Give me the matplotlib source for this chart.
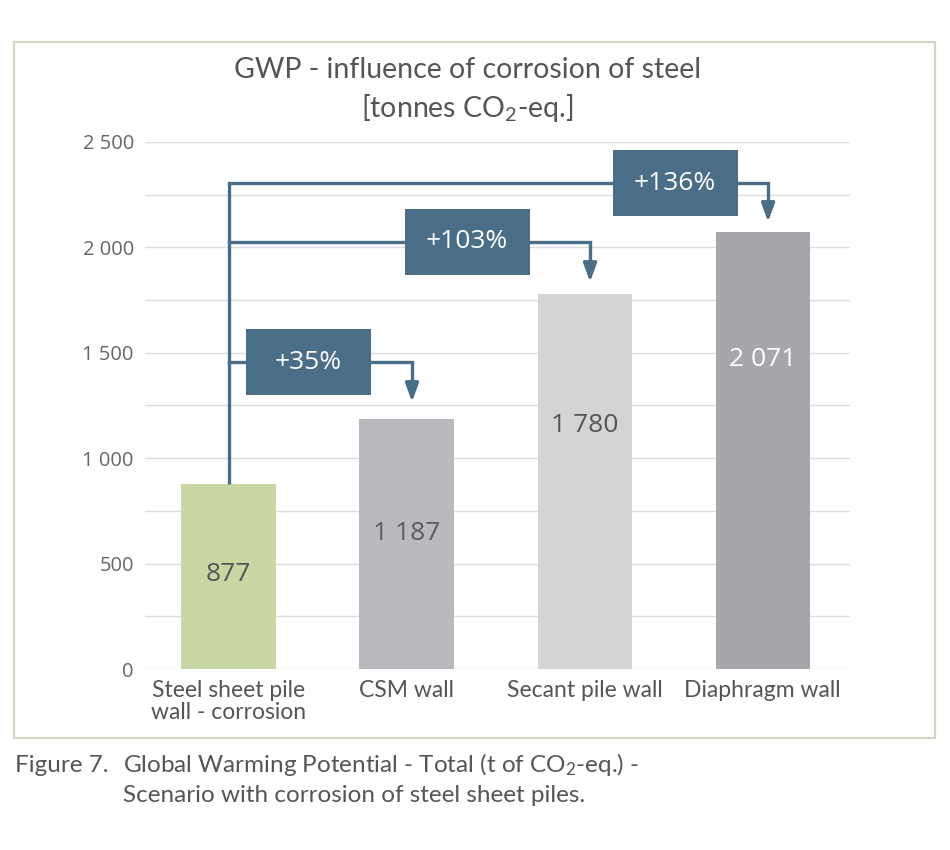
import matplotlib
matplotlib.use('Agg')
import matplotlib.pyplot as plt
from matplotlib.patches import Rectangle

# data
categories = ['Steel sheet pile\nwall - corrosion', 'CSM wall',
              'Secant pile wall', 'Diaphragm wall']
values = [877, 1187, 1780, 2071]
value_labels = ['877', '1 187', '1 780', '2 071']
increase_labels = ['+35%', '+103%', '+136%']
yticks = [0, 500, 1000, 1500, 2000, 2500]
ytick_labels = ['0', '500', '1 000', '1 500', '2 000', '2 500']

bar_colors = ['#c8d7a4', '#b9babd', '#d3d4d6', '#a6a7aa']
label_colors = ['#555555', '#5c5c5c', '#555555', '#ffffff']
label_frac = [0.51, 0.54, 0.65, 0.71]
box_color = '#4a6d88'
text_color = '#555555'

plt.rcParams['font.family'] = ['Lato', 'DejaVu Sans']
plt.rcParams['mathtext.fontset'] = 'custom'
plt.rcParams['mathtext.rm'] = 'Lato'
plt.rcParams['mathtext.default'] = 'rm'

fig = plt.figure(figsize=(9.5, 8.5), dpi=100)
ax = fig.add_axes([0.1526, 0.2129, 0.7421, 0.6201])

x = list(range(len(categories)))
ax.bar(x, values, width=0.53, color=bar_colors, zorder=2)
ax.set_xlim(-0.47, 3.49)
ax.set_ylim(0, 2500)

# gridlines every 250, labels every 500
for g in range(0, 2501, 250):
    ax.axhline(g, color='#dcdcdc', lw=1.0, zorder=1)
ax.set_yticks(yticks)
ax.set_yticklabels(ytick_labels, fontfamily='Open Sans', fontsize=14.5,
                   color='#666666')
ax.set_xticks(x)
ax.set_xticklabels(categories, fontsize=16.5, color=text_color,
                   linespacing=1.05)
ax.tick_params(axis='both', length=0)
ax.tick_params(axis='y', pad=8)
ax.tick_params(axis='x', pad=8)
for s in ax.spines.values():
    s.set_visible(False)

# value labels inside bars
for i, v in enumerate(values):
    ax.text(i, v * label_frac[i], value_labels[i], ha='center', va='center',
            fontfamily='Open Sans', fontsize=19, color=label_colors[i],
            zorder=3)

# brackets from first bar to each other bar
levels = [1456, 2026, 2305]
tips = [1267, 1836, 2121]
box_x = [0.446, 1.339, 2.508]
lw = 2.4
ax.plot([0, 0], [values[0], levels[-1]], color=box_color, lw=lw,
        solid_capstyle='butt', zorder=3)
for k in range(3):
    xe = k + 1 + 0.03
    y = levels[k]
    ax.plot([0, xe, xe], [y, y, tips[k] + 90], color=box_color, lw=lw,
            solid_joinstyle='miter', zorder=3)
    ax.annotate('', xy=(xe, tips[k]), xytext=(xe, tips[k] + 100),
                arrowprops=dict(arrowstyle='-|>,head_length=1.1,head_width=0.4',
                                color=box_color, lw=lw, shrinkA=0, shrinkB=0),
                zorder=4)
    ax.add_patch(Rectangle((box_x[k] - 0.351, y - 155), 0.702, 310,
                           facecolor=box_color, edgecolor='none', zorder=5))
    ax.text(box_x[k], y, increase_labels[k], ha='center', va='center',
            fontfamily='Open Sans', fontsize=19, color='white', zorder=6)

# title
fig.text(0.492, 0.918, 'GWP - influence of corrosion of steel',
         ha='center', va='center', fontsize=20.5, color=text_color)
fig.text(0.492, 0.873, r'[tonnes CO$_2$-eq.]', ha='center', va='center',
         fontsize=20.5, color=text_color)

# frame around chart
fig.patches.append(Rectangle((14 / 950, 1 - 738 / 850), 921 / 950, 696 / 850,
                             transform=fig.transFigure, fill=False,
                             edgecolor='#d3d4c6', lw=1.6))

# caption
fig.text(15 / 950, 1 - 765 / 850, 'Figure 7.', ha='left', va='center',
         fontsize=17.5, color='#555555')
fig.text(123 / 950, 1 - 765 / 850,
         r'Global Warming Potential - Total (t of CO$_2$-eq.) -',
         ha='left', va='center', fontsize=17.5, color='#555555')
fig.text(123 / 950, 1 - 796 / 850, 'Scenario with corrosion of steel sheet piles.',
         ha='left', va='center', fontsize=17.5, color='#555555')

fig.savefig('out.png', dpi=100, facecolor='white')
